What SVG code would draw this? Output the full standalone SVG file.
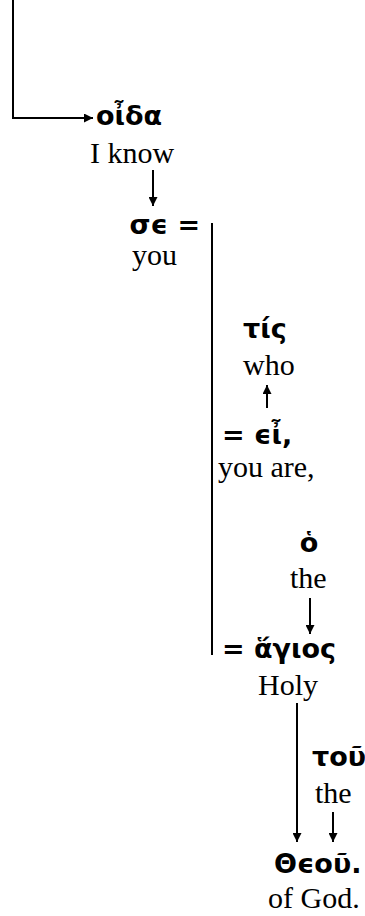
<svg xmlns="http://www.w3.org/2000/svg" width="365" height="916" viewBox="0 0 365 916">
<style>
.gk{font-family:"DejaVu Sans","Noto Sans",sans-serif;font-weight:bold;font-size:27px;fill:#000}
.en{font-family:"Liberation Serif","Times New Roman",serif;font-size:30px;fill:#000}
.ln{stroke:#000;stroke-width:2;fill:none}
</style>
<defs>
<marker id="ah" viewBox="0 0 10 10" refX="10" refY="5" markerWidth="10" markerHeight="9" markerUnits="userSpaceOnUse" orient="auto">
<path d="M0,0 L10,5 L0,10 z" fill="#000"/>
</marker>
</defs>
<rect width="365" height="916" fill="#fff"/>
<g id="connectors">
<path class="ln" d="M13,0 V118 H93" marker-end="url(#ah)"/>
<path class="ln" d="M153,170 V206" marker-end="url(#ah)"/>
<path class="ln" d="M212,223 V655"/>
<path class="ln" d="M267,408 V385" marker-end="url(#ah)"/>
<path class="ln" d="M310,598 V634" marker-end="url(#ah)"/>
<path class="ln" d="M297,703 V842" marker-end="url(#ah)"/>
<path class="ln" d="M333,812 V842" marker-end="url(#ah)"/>
</g>
<g id="n-oida"><text class="gk" x="96" y="125">οἶδα</text><text class="en" x="90" y="163">I know</text></g>
<g id="n-se"><text class="gk" x="200" y="234" text-anchor="end">σϵ =</text><text class="en" x="132" y="265">you</text></g>
<g id="n-tis"><text class="gk" x="243" y="338">τίς</text><text class="en" x="243" y="375">who</text></g>
<g id="n-ei"><text class="gk" x="222" y="444">= ϵἶ,</text><text class="en" x="218" y="477">you are,</text></g>
<g id="n-ho"><text class="gk" x="309" y="552" text-anchor="middle">ὁ</text><text class="en" x="290" y="588">the</text></g>
<g id="n-hagios"><text class="gk" x="222" y="658">= ἅγιος</text><text class="en" x="258" y="695">Holy</text></g>
<g id="n-tou"><text class="gk" x="312" y="766">τοῦ</text><text class="en" x="315" y="803">the</text></g>
<g id="n-theou"><text class="gk" x="274" y="873">Θϵοῦ.</text><text class="en" x="268" y="908">of God.</text></g>
</svg>
